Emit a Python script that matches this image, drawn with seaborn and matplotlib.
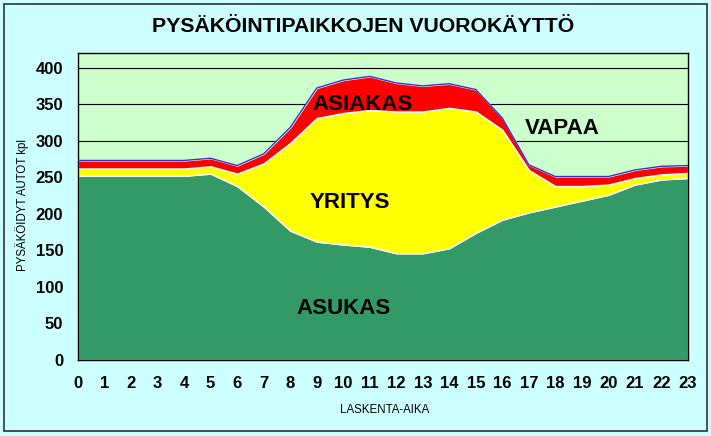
import numpy as np
import pandas as pd
import seaborn as sns
import matplotlib.pyplot as plt
from matplotlib.patches import Rectangle

# hourly counts (parked cars)
hours = list(range(24))
asukas = [252, 252, 252, 252, 252, 255, 238, 210, 177, 162, 158, 155,
          146, 146, 153, 174, 192, 202, 210, 218, 226, 240, 247, 249]
yritys = [10, 10, 10, 10, 10, 10, 17, 59, 120, 169, 180, 187,
          194, 194, 192, 166, 123, 58, 28, 20, 14, 9, 7, 7]
asiakas = [11, 11, 11, 11, 11, 11, 11, 13, 21, 41, 45, 46,
           39, 35, 33, 30, 16, 7, 13, 13, 11, 11, 11, 10]

df = pd.DataFrame({"hour": hours, "ASUKAS": asukas, "YRITYS": yritys, "ASIAKAS": asiakas})
df["total"] = df["ASUKAS"] + df["YRITYS"] + df["ASIAKAS"]

sns.set_style("white")
plt.rcParams["font.family"] = ["Liberation Sans", "DejaVu Sans"]
plt.rcParams["text.color"] = "black"
plt.rcParams["axes.labelcolor"] = "black"
plt.rcParams["xtick.color"] = "black"
plt.rcParams["ytick.color"] = "black"

fig = plt.figure(figsize=(7.11, 4.36), dpi=100)
fig.patch.set_facecolor("#ccffff")
fig.patches.append(Rectangle((4 / 711, 5 / 436), 703 / 711, 427 / 436, transform=fig.transFigure,
                             fill=False, edgecolor="#333333", linewidth=1.2))

ax = fig.add_axes([78 / 711, 1 - 360 / 436, 610 / 711, 307 / 436])
ax.set_facecolor("#ccffcc")

ax.stackplot(df["hour"], df["ASUKAS"], df["YRITYS"], df["ASIAKAS"],
             colors=["#339966", "#ffff00", "#ff0000"], zorder=2)
sns.lineplot(x="hour", y="total", data=df, ax=ax, color="#3333cc", linewidth=1, zorder=3)

ax.set_xlim(0, 23)
ax.set_ylim(0, 420)
ax.set_xticks(hours)
ax.set_yticks(range(0, 401, 50))
ax.yaxis.grid(True, color="black", linewidth=0.8, zorder=0)
ax.set_axisbelow(True)
for s in ax.spines.values():
    s.set_color("black")
    s.set_linewidth(1)
ax.tick_params(axis="both", direction="out", length=3.6, width=1.3, labelsize=12)
ax.tick_params(axis="x", pad=8)
ax.tick_params(axis="y", pad=7)
for lab in ax.get_xticklabels() + ax.get_yticklabels():
    lab.set_fontweight("bold")

ax.set_xlabel("LASKENTA-AIKA", fontsize=8.3)
ax.set_ylabel("PYSÄKÖIDYT AUTOT kpl", fontsize=8.3)
ax.xaxis.set_label_coords(0.503, -0.163)
ax.yaxis.set_label_coords(-0.092, 0.505)
ax.xaxis.label.set_va("center")
ax.yaxis.label.set_va("center")

# area labels
for txt, x, y in [("ASIAKAS", 10.75, 349), ("YRITYS", 10.26, 216), ("ASUKAS", 10.0, 70), ("VAPAA", 18.25, 317)]:
    ax.text(x, y, txt, ha="center", va="center", fontsize=16, fontweight="bold", zorder=4)

fig.suptitle("PYSÄKÖINTIPAIKKOJEN VUOROKÄYTTÖ", x=363 / 711, y=1 - 27 / 436,
             va="center", fontsize=15.3, fontweight="bold")

fig.savefig("out.png", dpi=100, facecolor=fig.get_facecolor())
